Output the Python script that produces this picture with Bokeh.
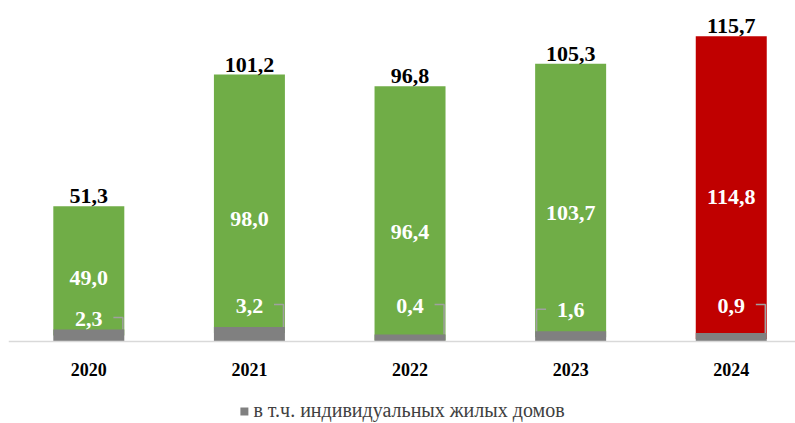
from bokeh.plotting import figure
from bokeh.models import Range1d, ColumnDataSource, Legend, LegendItem, FixedTicker
from bokeh.core.properties import value
from bokeh.embed import file_html
from bokeh.resources import INLINE

# ---- data ----
years = ["2020", "2021", "2022", "2023", "2024"]
totals = [51.3, 101.2, 96.8, 105.3, 115.7]
green_part = [49.0, 98.0, 96.4, 103.7, 114.8]
gray_part = [2.3, 3.2, 0.4, 1.6, 0.9]
legend_label = "в т.ч. индивидуальных жилых домов"

def fmt(v):
    return f"{v:.1f}".replace(".", ",")

# ---- style / layout ----
bar_colors = ["#70AD47", "#70AD47", "#70AD47", "#70AD47", "#C00000"]
gray_color = "#808080"
inner_dy = [7, 15, 19, 12, 9]                 # px shift of inner labels
gray_label_y = [8.7, 13.6, 13.6, 11.8, 13.6]  # label placement (y units)
leader_side = [1, 1, 1, -1, 1]
FONT = "Liberation Serif"
BAR_W = 0.442
OUTLINE = 12

x = list(range(len(years)))

p = figure(width=795, height=423, output_backend="svg", toolbar_location=None,
           x_range=Range1d(-0.5, 4.4), y_range=Range1d(-31.1, 125.5),
           min_border_left=8, min_border_right=0, min_border_top=10,
           min_border_bottom=0)
p.outline_line_color = None
p.xgrid.visible = False
p.ygrid.visible = False
p.yaxis.visible = False

src = ColumnDataSource(dict(
    x=x, total=totals, green=green_part, gray=gray_part, color=bar_colors,
    total_lbl=[fmt(v) for v in totals],
    green_lbl=[fmt(v) for v in green_part],
    gray_lbl=[fmt(v) for v in gray_part],
    green_mid=[g + s / 2 for g, s in zip(gray_part, green_part)],
    inner_dy=inner_dy, gray_y=gray_label_y,
))

p.vbar(x="x", bottom="gray", top="total", width=BAR_W, fill_color="color",
       line_color=None, source=src)
p.vbar(x="x", bottom=0, top="gray", width=BAR_W - OUTLINE / 160.6,
       fill_color=gray_color, line_color=gray_color, line_width=OUTLINE,
       line_join="miter", source=src)
# hide the part of the gray outline that falls below the baseline
p.vbar(x="x", bottom=-OUTLINE / 2 / 2.637 - 0.5, top=0, width=BAR_W + 0.02,
       fill_color="white", line_color=None, source=src)

# leader lines for gray labels
xs, ys = [], []
for i in x:
    s = leader_side[i]
    ly = gray_label_y[i] + 0.4
    xs.append([i + s * 0.153, i + s * 0.212, i + s * 0.212])
    ys.append([ly, ly, gray_part[i] + 2.3])
p.multi_line(xs, ys, line_color="#a0a0a0", line_width=1.5)

p.text(x="x", y="total", text="total_lbl", source=src, text_align="center",
       text_baseline="bottom", y_offset=-3, text_font=value(FONT),
       text_font_style="bold", text_font_size="22px", text_color="#000000")
p.text(x="x", y="green_mid", text="green_lbl", source=src, text_align="center",
       text_baseline="middle", y_offset="inner_dy", text_font=value(FONT),
       text_font_style="bold", text_font_size="22px", text_color="#ffffff")
p.text(x="x", y="gray_y", text="gray_lbl", source=src, text_align="center",
       text_baseline="middle", text_font=value(FONT),
       text_font_style="bold", text_font_size="22px", text_color="#ffffff")

# axis at y = 0 inside the frame
p.xaxis.fixed_location = 0
p.xaxis.ticker = FixedTicker(ticks=x)
p.xaxis.major_label_overrides = {i: y for i, y in enumerate(years)}
p.xaxis.axis_line_color = "#d9d9d9"
p.xaxis.axis_line_width = 1.5
p.xaxis.major_tick_line_color = None
p.xaxis.minor_tick_line_color = None
p.xaxis.major_label_standoff = 16
p.xaxis.major_label_text_font = FONT
p.xaxis.major_label_text_font_style = "bold"
p.xaxis.major_label_text_font_size = "18px"
p.xaxis.major_label_text_color = "#000000"

# legend (zero-size proxy bar carrying the gray series' look)
proxy = p.vbar(x=[0], bottom=[0], top=[0], width=0.0, fill_color=gray_color,
               line_color=None)
legend = Legend(items=[LegendItem(label=legend_label, renderers=[proxy])],
                location="bottom_center", orientation="horizontal",
                border_line_color=None, background_fill_alpha=0,
                margin=1, padding=0, glyph_width=10, glyph_height=10,
                label_text_font=FONT, label_text_font_size="20px",
                label_text_color="#404040", label_standoff=5)
p.add_layout(legend, "center")

open("out.html", "w").write(file_html(p, INLINE))
